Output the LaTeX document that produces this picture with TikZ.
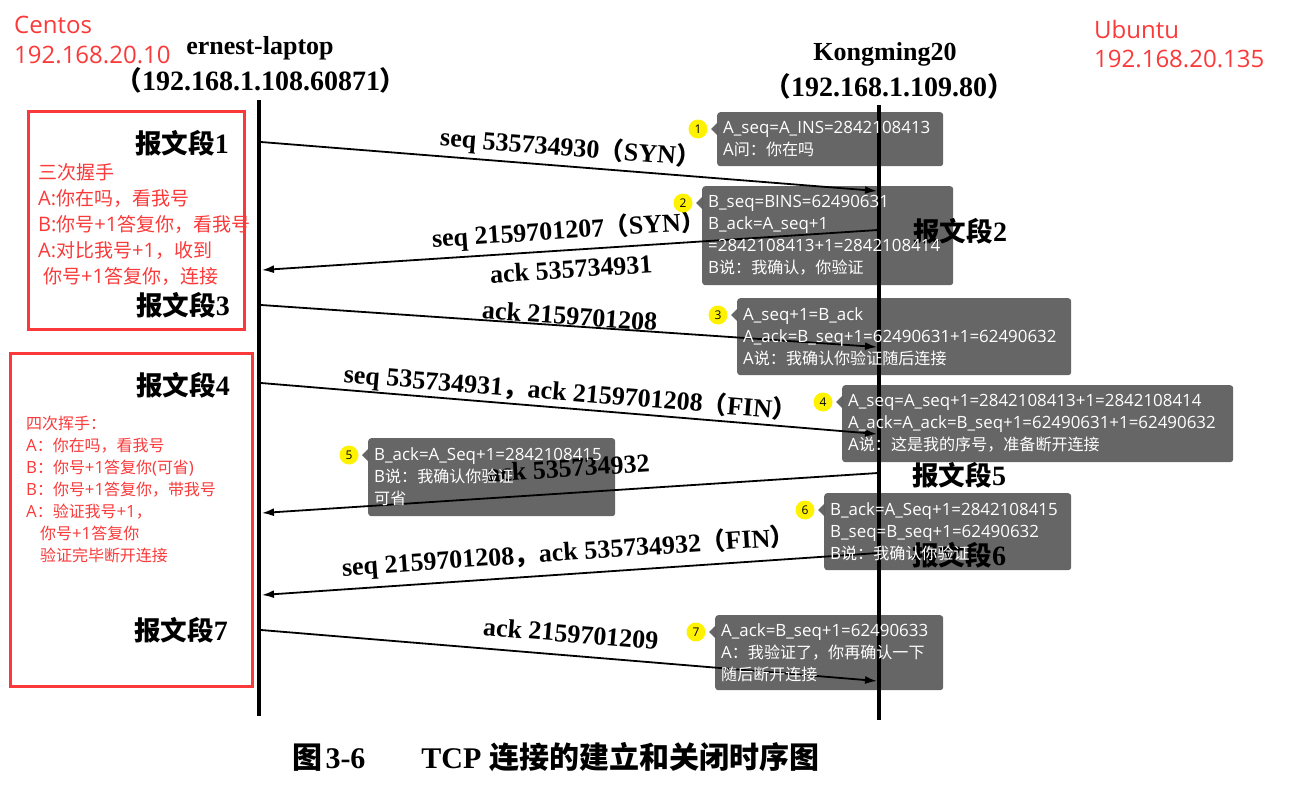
\documentclass[tikz,border=0pt]{standalone}
\usepackage{fontspec}
\setmainfont{Liberation Serif}
\newfontfamily\cjk[Scale=0.95]{Noto Sans CJK SC}
\newfontfamily\cjkfull{Noto Sans CJK SC}
\newfontfamily\lat{Open Sans}
\usetikzlibrary{arrows.meta,calc}
\definecolor{myred}{RGB}{250,58,58}
\newcommand\C[1]{{\cjk #1}}
\newcommand\mycallout[8]{%
  \node[callbox,minimum width=#5pt,minimum height=#6pt,text width=#7pt,anchor=north west] (#1) at (#3,#4) {#8};
  \fill[callfill] ($(#1.north west)+(0,11)$) -- ($(#1.north west)+(-6,17)$) -- ($(#1.north west)+(0,23)$) -- cycle;
  \node[numc] (#1n) at ($(#1.north west)+(-19,17)$) {#2};
}
\begin{document}
\begin{tikzpicture}[x=1pt,y=-1pt,
 life/.style={line width=4.5pt},
 msg/.style={line width=1.8pt,-{Latex[length=12pt,width=8pt]}},
 msgl/.style={line width=1.8pt,{Latex[length=12pt,width=8pt]}-},
 lbl/.style={font=\fontsize{26}{28}\selectfont\bfseries,sloped,inner sep=2pt,pos=0.5},
 seg/.style={font=\fontsize{28}{30}\selectfont\bfseries,inner sep=0pt},
 head/.style={font=\fontsize{26}{28}\selectfont\bfseries,inner sep=0pt},
 headip/.style={font=\fontsize{28}{30}\selectfont\bfseries,inner sep=0pt},
 redlbl/.style={text=myred,font=\lat\fontsize{24}{26}\selectfont,inner sep=0pt,anchor=west},
 redbox/.style={draw=myred,line width=3pt},
 redA/.style={text=myred,font=\lat\fontsize{20}{22}\selectfont,inner sep=0pt,anchor=west,text height=18pt,text depth=4pt},
 redB/.style={text=myred,font=\lat\fontsize{16.8}{20}\selectfont,inner sep=0pt,anchor=west,text height=15pt,text depth=3pt},
 callbox/.style={fill=black,fill opacity=0.6,text opacity=1,text=white,rounded corners=3pt,inner sep=6pt,align=left,font=\lat\fontsize{16.9}{22}\selectfont},
 callfill/.style={fill=black,fill opacity=0.6},
 numc/.style={circle,fill=yellow,inner sep=0pt,minimum size=19pt,font=\lat\fontsize{12}{12}\selectfont},
]
\fill[white] (0,0) rectangle (1307,803);
\useasboundingbox (0,0) rectangle (1307,803);

% headers
\node[head] (hA) at (260,48) {ernest-laptop};
\node[headip] (hAip) at (261,80) {\C{（}192.168.1.108.60871\C{）}};
\node[head] (hB) at (885,54) {Kongming20};
\node[headip] (hBip) at (889,86) {\C{（}192.168.1.109.80\C{）}};

% lifelines
\coordinate (Ltop) at (259,100); \coordinate (Lbot) at (259,716);
\coordinate (Rtop) at (879,105); \coordinate (Rbot) at (879,720);
\draw[life] (Ltop) -- (Lbot);
\draw[life] (Rtop) -- (Rbot);

% message end points
\coordinate (A1) at (261,142); \coordinate (B1) at (877,191);
\coordinate (A2) at (262,270); \coordinate (B2) at (878,230);
\coordinate (A3) at (261,305); \coordinate (B3) at (877,347);
\coordinate (A4) at (261,383); \coordinate (B4) at (877,434);
\coordinate (A5) at (262,513); \coordinate (B5) at (878,473);
\coordinate (A6) at (262,595); \coordinate (B6) at (878,553);
\coordinate (A7) at (261,630); \coordinate (B7) at (877,681);

\draw[msg] (A1) -- node[lbl,above=2pt] (m1) {seq 535734930\C{（}SYN\C{）}} (B1);
\draw[msgl] (A2) -- node[lbl,above=3pt] (m2a) {seq 2159701207\C{（}SYN\C{）}}
                    node[lbl,below=7pt] (m2b) {ack 535734931} (B2);
\draw[msg] (A3) -- node[lbl,above=-2pt] (m3) {ack 2159701208} (B3);
\draw[msg] (A4) -- node[lbl,above=-1pt] (m4) {seq 535734931\C{，}ack 2159701208\C{（}FIN\C{）}} (B4);
\draw[msgl] (A5) -- node[lbl,above=13pt] (m5) {ack 535734932} (B5);
\draw[msgl] (A6) -- node[lbl,above=5pt] (m6) {seq 2159701208\C{，}ack 535734932\C{（}FIN\C{）}} (B6);
\draw[msg] (A7) -- node[lbl,above=10pt] (m7) {ack 2159701209} (B7);

% segment labels
\node[seg,anchor=east] (s1) at (229,143) {\C{报文段}1};
\node[seg,anchor=east] (s3) at (230,305) {\C{报文段}3};
\node[seg,anchor=east] (s4) at (230,385) {\C{报文段}4};
\node[seg,anchor=east] (s7) at (228,630) {\C{报文段}7};
\node[seg,anchor=west] (s2) at (913,231) {\C{报文段}2};
\node[seg,anchor=west] (s5) at (912,475) {\C{报文段}5};
\node[seg,anchor=west] (s6) at (912,555) {\C{报文段}6};

% caption
\node[inner sep=0pt,font=\fontsize{30}{32}\selectfont\bfseries] (cap) at (556,757)
  {{\cjkfull 图}\hspace{3pt}3-6\hspace{56pt}TCP\hspace{8pt}{\cjkfull 连接的建立和关闭时序图}};

% red annotations
\node[redlbl] (centos) at (14,25) {Centos};
\node[redlbl] (centosip) at (14,55) {192.168.20.10};
\node[redlbl] (ubuntu) at (1094,29) {Ubuntu};
\node[redlbl] (ubuntuip) at (1094,59) {192.168.20.135};

\draw[redbox] (28,111) rectangle (244,329);
\draw[redbox] (10,353) rectangle (252,686);

\foreach \t [count=\i from 0] in {\C{三次握手}, A:\C{你在吗，看我号}, B:\C{你号}+1\C{答复你，看我号}, A:\C{对比我号}+1\C{，收到}}
  \node[redA] (ra\i) at (38,172+26*\i) {\t};
\node[redA] (ra4) at (43,276) {\C{你号}+1\C{答复你，连接}};

\foreach \t [count=\i from 0] in {\C{四次挥手：}, A\C{：你在吗，看我号}, B\C{：你号}+1\C{答复你}(\C{可省}), B\C{：你号}+1\C{答复你，带我号}, A\C{：验证我号}+1\C{，}}
  \node[redB] (rb\i) at (26,423+22*\i) {\t};
\node[redB] (rb5) at (40,533) {\C{你号}+1\C{答复你}};
\node[redB] (rb6) at (40,555) {\C{验证完毕断开连接}};

% callouts
\mycallout{c1}{1}{717}{112}{226}{54}{214}{A\_seq=A\_INS=2842108413\\A\C{问：你在吗}}
\mycallout{c2}{2}{702}{186}{251}{99}{239}{B\_seq=BINS=62490631\\B\_ack=A\_seq+1\\=2842108413+1=2842108414\\B\C{说：我确认，你验证}}
\mycallout{c3}{3}{737}{298}{334}{77}{322}{A\_seq+1=B\_ack\\A\_ack=B\_seq+1=62490631+1=62490632\\A\C{说：我确认你验证随后连接}}
\mycallout{c4}{4}{842}{385}{391}{77}{379}{A\_seq=A\_seq+1=2842108413+1=2842108414\\A\_ack=A\_ack=B\_seq+1=62490631+1=62490632\\A\C{说：这是我的序号，准备断开连接}}
\mycallout{c5}{5}{368}{438}{247}{78}{235}{B\_ack=A\_Seq+1=2842108415\\B\C{说：我确认你验证}\\\C{可省}}
\mycallout{c6}{6}{824}{493}{247}{77}{235}{B\_ack=A\_Seq+1=2842108415\\B\_seq=B\_seq+1=62490632\\B\C{说：我确认你验证}}
\mycallout{c7}{7}{715}{615}{228}{75}{216}{A\_ack=B\_seq+1=62490633\\A\C{：我验证了，你再确认一下}\\\C{随后断开连接}}
\end{tikzpicture}
\end{document}
